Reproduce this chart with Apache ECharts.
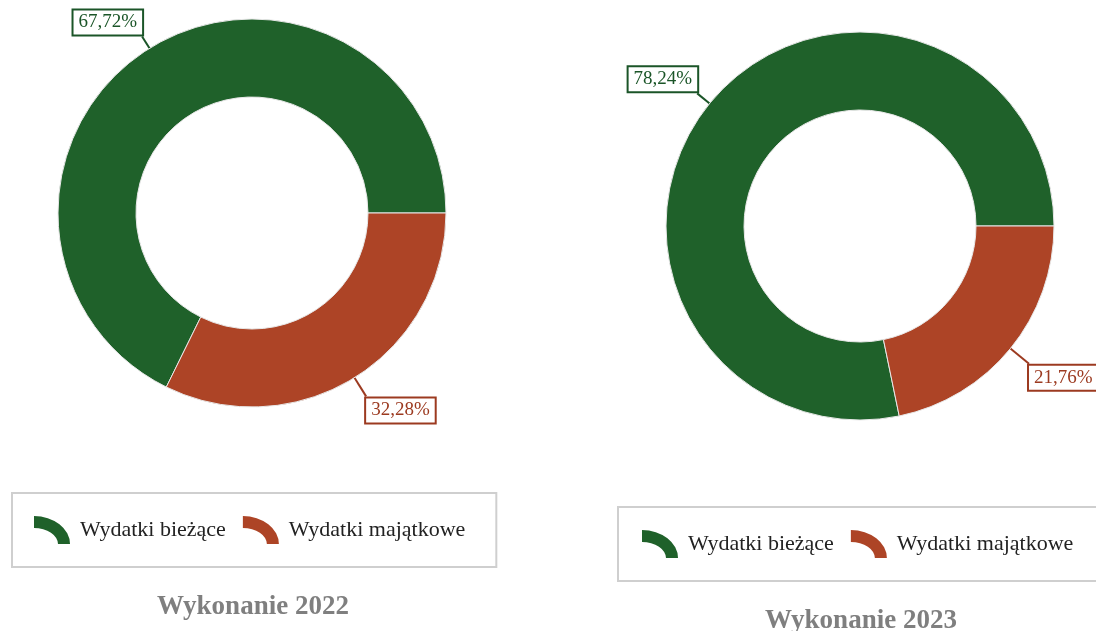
<!DOCTYPE html>
<html>
<head>
<meta charset="utf-8">
<script src="https://cdn.jsdelivr.net/npm/echarts@6/dist/echarts.min.js"></script>
<style>
html, body { margin: 0; padding: 0; background: #fff; }
#main { width: 1096px; height: 631px; }
</style>
</head>
<body>
<div id="main"></div>
<script>
var categories = ['Wydatki bieżące', 'Wydatki majątkowe'];
var titles = ['Wykonanie 2022', 'Wykonanie 2023'];
var values2022 = [67.72, 32.28];
var values2023 = [78.24, 21.76];

var colors = ['#1f612a', '#ad4426'];
var borderColors = ['#1b5528', '#9c3a20'];
var font = 'Liberation Serif';
// quarter of a ring, same 36x28 proportions as the legend item
var arcIcon = 'path://M0 0A36 28 0 0 1 36 28L24 28A24 16 0 0 0 0 12Z';

function makeData(values, lineLens) {
    return values.map(function (v, i) {
        return {
            name: categories[i],
            value: v,
            itemStyle: { color: colors[i] },
            label: {
                color: borderColors[i],
                borderColor: borderColors[i]
            },
            labelLine: {
                length: lineLens[i],
                length2: 0,
                lineStyle: { color: borderColors[i], width: 2 }
            }
        };
    });
}

function makePie(center, values, lineLens) {
    return {
        type: 'pie',
        center: center,
        radius: [116, 194],
        startAngle: 0,
        clockwise: false,
        avoidLabelOverlap: false,
        itemStyle: { borderColor: '#e8e8e8', borderWidth: 1 },
        label: {
            show: true,
            position: 'outside',
            fontFamily: font,
            fontSize: 19,
            backgroundColor: '#fff',
            borderWidth: 2,
            padding: [3, 5, 2, 5],
            distanceToLabelLine: 0,
            formatter: function (p) {
                return p.value.toFixed(2).replace('.', ',') + '%';
            }
        },
        // box sits off the corner of the leader line, not centred on it
        labelLayout: function (params) {
            var h = params.labelRect.height / 2;
            return { dy: params.dataIndex === 0 ? -h : h };
        },
        emphasis: { scale: false },
        data: makeData(values, lineLens)
    };
}

function makeLegend(left, top, padLeft) {
    return {
        left: left,
        top: top,
        width: 700,
        orient: 'horizontal',
        data: categories,
        icon: arcIcon,
        itemWidth: 36,
        itemHeight: 28,
        itemGap: 17,
        itemStyle: { borderWidth: 0 },
        padding: [23, 31, 23, padLeft],
        borderColor: '#cfcfcf',
        borderWidth: 2,
        textStyle: {
            fontFamily: font,
            fontSize: 22,
            color: '#222',
            padding: [0, 0, 0, 5]
        }
    };
}

var myChart = echarts.init(document.getElementById('main'));

var option = {
    backgroundColor: '#fff',
    animation: false,
    legend: [
        makeLegend(12, 493, 22),
        makeLegend(618, 507, 24)
    ],
    graphic: [
        {
            type: 'text', x: 253, y: 607,
            style: { text: titles[0], align: 'center', verticalAlign: 'middle',
                fontFamily: font, fontSize: 27, fontWeight: 'bold', fill: '#7f7f7f' }
        },
        {
            type: 'text', x: 861, y: 621,
            style: { text: titles[1], align: 'center', verticalAlign: 'middle',
                fontFamily: font, fontSize: 27, fontWeight: 'bold', fill: '#7f7f7f' }
        }
    ],
    series: [
        makePie([252, 213], values2022, [14, 22]),
        makePie([860, 226], values2023, [16, 24])
    ]
};

myChart.setOption(option);

window.addEventListener('resize', function () {
    myChart.resize();
});
</script>
</body>
</html>
